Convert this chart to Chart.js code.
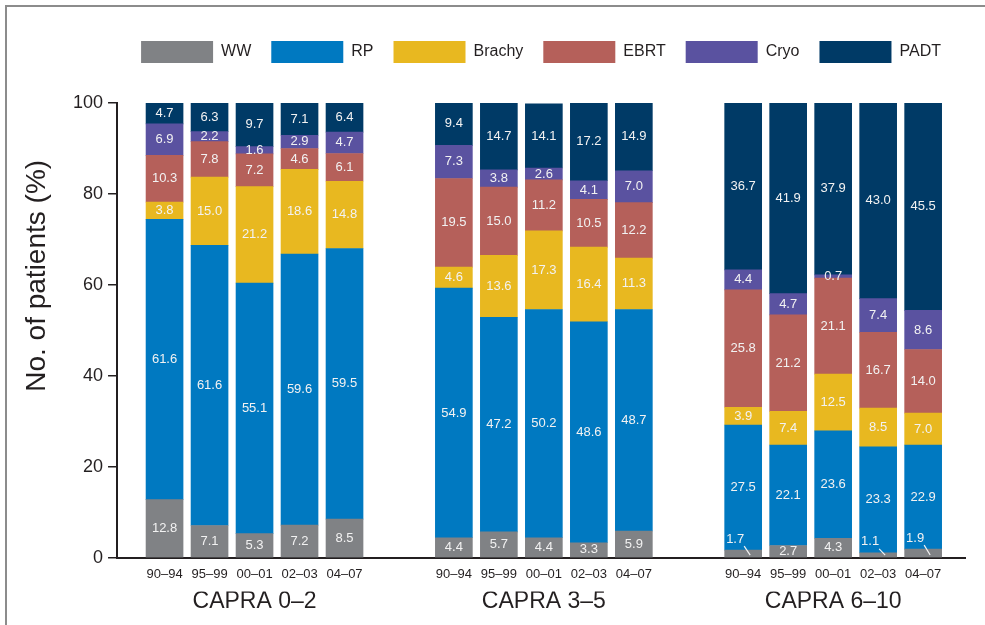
<!DOCTYPE html>
<html>
<head>
<meta charset="utf-8">
<title>Treatment by CAPRA score</title>
<script src="https://cdn.jsdelivr.net/npm/chart.js@4.4.1/dist/chart.umd.min.js"></script>
<style>
  html, body { margin: 0; padding: 0; background: #fff; }
  #wrap { position: relative; width: 985px; height: 625px; overflow: hidden; }
  #frame { position: absolute; left: 5px; top: 5px; width: 990px; height: 630px;
           border-left: 2px solid #8c8c8c; border-top: 2px solid #8c8c8c; pointer-events: none; }
</style>
</head>
<body>
<div id="wrap">
  <canvas id="chart" width="985" height="625"></canvas>
  <div id="frame"></div>
</div>
<script>
// periods inside each CAPRA group
const periods = ['90–94', '95–99', '00–01', '02–03', '04–07'];
const groups = ['CAPRA 0–2', 'CAPRA 3–5', 'CAPRA 6–10'];
const treatments = ['WW', 'RP', 'Brachy', 'EBRT', 'Cryo', 'PADT'];
const colors = ['#808285', '#0079c1', '#e8b820', '#b5605a', '#5a52a0', '#003a66'];
const yTicks = [0, 20, 40, 60, 80, 100];

// % of patients, 5 periods x 3 groups
const ww     = [12.8, 7.1, 5.3, 7.2, 8.5,   4.4, 5.7, 4.4, 3.3, 5.9,    1.7, 2.7, 4.3, 1.1, 1.9];
const rp     = [61.6, 61.6, 55.1, 59.6, 59.5, 54.9, 47.2, 50.2, 48.6, 48.7, 27.5, 22.1, 23.6, 23.3, 22.9];
const brachy = [3.8, 15.0, 21.2, 18.6, 14.8, 4.6, 13.6, 17.3, 16.4, 11.3, 3.9, 7.4, 12.5, 8.5, 7.0];
const ebrt   = [10.3, 7.8, 7.2, 4.6, 6.1,   19.5, 15.0, 11.2, 10.5, 12.2, 25.8, 21.2, 21.1, 16.7, 14.0];
const cryo   = [6.9, 2.2, 1.6, 2.9, 4.7,    7.3, 3.8, 2.6, 4.1, 7.0,    4.4, 4.7, 0.7, 7.4, 8.6];
const padt   = [4.7, 6.3, 9.7, 7.1, 6.4,    9.4, 14.7, 14.1, 17.2, 14.9, 36.7, 41.9, 37.9, 43.0, 45.5];

const series = [ww, rp, brachy, ebrt, cryo, padt];

// bar slot positions: one unit per period, wider step between groups
const GROUP_STEP = 6.43;
const slot = i => Math.floor(i / 5) * GROUP_STEP + (i % 5);
const xSlots = ww.map((v, i) => slot(i));
const X_MIN = -1.056, X_MAX = 17.79;

const FONT = "'Liberation Sans', Arial, sans-serif";
const INK = '#231f20';

Chart.defaults.font.family = FONT;
Chart.defaults.color = INK;

const barLabels = {
  id: 'barLabels',
  afterDatasetsDraw(chart) {
    const ctx = chart.ctx;
    ctx.save();
    ctx.font = '13px ' + FONT;
    ctx.fillStyle = '#f2f2f2';
    ctx.strokeStyle = '#f2f2f2';
    ctx.lineWidth = 1.2;
    ctx.textAlign = 'center';
    ctx.textBaseline = 'middle';
    chart.data.datasets.forEach((ds, d) => {
      chart.getDatasetMeta(d).data.forEach((bar, i) => {
        const v = ds.data[i].y;
        const top = Math.min(bar.y, bar.base);
        const bottom = Math.max(bar.y, bar.base);
        const txt = v.toFixed(1);
        if (d === 0 && v < 2) {
          // too thin: label sits above with a small pointer
          ctx.fillText(txt, bar.x - 8, top - 11);
          ctx.beginPath();
          ctx.moveTo(bar.x + 1, top - 4);
          ctx.lineTo(bar.x + 7, bottom - 2);
          ctx.stroke();
        } else {
          ctx.fillText(txt, bar.x, (top + bottom) / 2);
        }
      });
    });
    ctx.restore();
  }
};

// y title sits above the axis middle in the original
const yTitle = {
  id: 'yTitle',
  afterDraw(chart) {
    const ctx = chart.ctx;
    const y = chart.scales.y.getPixelForValue(62);
    ctx.save();
    ctx.translate(37, y);
    ctx.rotate(-Math.PI / 2);
    ctx.font = '28px ' + FONT;
    ctx.fillStyle = INK;
    ctx.textAlign = 'center';
    ctx.textBaseline = 'middle';
    ctx.fillText('No. of patients (%)', 0, 0);
    ctx.restore();
  }
};

new Chart(document.getElementById('chart'), {
  type: 'bar',
  data: {
    datasets: series.map((vals, k) => ({
      label: treatments[k],
      data: vals.map((v, i) => ({ x: xSlots[i], y: v })),
      backgroundColor: colors[k],
      borderWidth: 0,
      barThickness: 37
    }))
  },
  options: {
    responsive: false,
    animation: false,
    devicePixelRatio: 1,
    layout: { padding: { left: 68, right: 20, top: 21, bottom: 14 } },
    plugins: {
      legend: {
        position: 'top',
        fullSize: false,
        labels: {
          boxWidth: 72,
          boxHeight: 22,
          padding: 20,
          color: INK,
          font: { size: 16 }
        }
      },
      // empty spacer between legend and plot
      title: { display: true, text: '', weight: 500, font: { size: 10, lineHeight: 1 }, padding: { top: 0, bottom: 20 } },
      tooltip: { enabled: false }
    },
    scales: {
      x: {
        type: 'linear',
        min: X_MIN,
        max: X_MAX,
        offset: false,
        stacked: true,
        grid: { display: false, drawTicks: false },
        border: { display: true, color: INK, width: 2 },
        afterBuildTicks: s => { s.ticks = xSlots.map(v => ({ value: v })); },
        ticks: {
          autoSkip: false,
          maxRotation: 0,
          padding: 9,
          color: INK,
          font: { size: 13 },
          callback: (v, i) => periods[i % 5]
        }
      },
      x2: {
        type: 'linear',
        position: 'bottom',
        min: X_MIN,
        max: X_MAX,
        offset: false,
        grid: { display: false, drawTicks: false },
        border: { display: false },
        afterBuildTicks: s => { s.ticks = groups.map((g, i) => ({ value: i * GROUP_STEP + 2 })); },
        ticks: {
          autoSkip: false,
          maxRotation: 0,
          padding: -4,
          color: INK,
          font: { size: 23 },
          callback: (v, i) => groups[i]
        }
      },
      y: {
        stacked: true,
        min: 0,
        max: 100,
        afterBuildTicks: s => { s.ticks = yTicks.map(v => ({ value: v })); },
        grid: { drawOnChartArea: false, drawTicks: true, tickLength: 9, color: INK, lineWidth: 1.5 },
        border: { color: INK, width: 2 },
        ticks: { padding: 5, color: INK, font: { size: 18 } }
      }
    }
  },
  plugins: [barLabels, yTitle]
});
</script>
</body>
</html>
